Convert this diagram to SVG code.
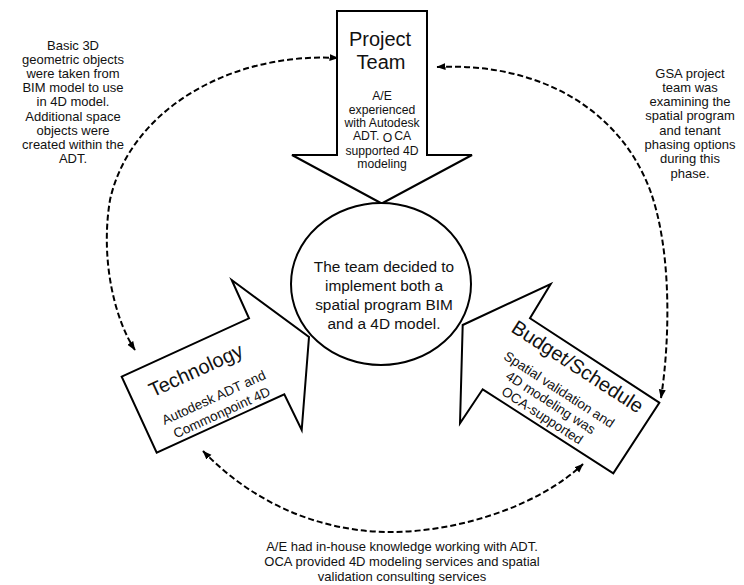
<svg xmlns="http://www.w3.org/2000/svg" width="744" height="585" viewBox="0 0 744 585">
<defs>
<marker id="ah" markerUnits="userSpaceOnUse" markerWidth="10" markerHeight="8" refX="8.5" refY="3.5" orient="auto-start-reverse" viewBox="0 0 10 8">
<path d="M0,0 L9,3.5 L0,7 z" fill="#000"/>
</marker>
<style>
.shape{fill:#fff;stroke:#000;stroke-width:2;stroke-linejoin:miter}
.conn{fill:none;stroke:#000;stroke-width:2;stroke-dasharray:6 3;marker-start:url(#ah);marker-end:url(#ah)}
text{font-family:"Liberation Sans",Arial,sans-serif;fill:#111;text-anchor:middle}
.big{font-size:20px}
.sm{font-size:12.2px}
.note{font-size:13px}
.mid{font-size:13.5px}
.ell{font-size:15.4px}
</style>
</defs>
<rect width="744" height="585" fill="#fff"/>
<g id="connectors">
<path class="conn" d="M338,58 C230,52 130,110 110,200 C100,260 115,320 135,350"/>
<path class="conn" d="M437,67 C540,62 620,110 650,190 C672,250 670,340 661,398"/>
<path class="conn" d="M203,451 C260,510 330,532 390,532 C460,532 540,505 583,464"/>
</g>
<g id="project-team">
<polygon class="shape" points="337,11 427,11 427,155 472,155 381.7,203.5 292,155 337,155"/>
<text class="big" x="380" y="45.5">Project</text>
<text class="big" x="381" y="68.5">Team</text>
<text class="sm" x="382" y="100">A/E</text>
<text class="sm" x="382" y="113.5">experienced</text>
<text class="sm" x="382" y="127">with Autodesk</text>
<text class="sm" x="382" y="140">ADT. <tspan dy="2">O</tspan><tspan dy="-2" dx="2">CA</tspan></text>
<text class="sm" x="382" y="154.5">supported 4D</text>
<text class="sm" x="382" y="168">modeling</text>
</g>
<g id="technology">
<polygon class="shape" points="121.7,376.7 249,318.3 231.7,280 309,337 301.7,430 284.3,394.3 156.7,452.7"/>
<g transform="translate(202.8,385.6) rotate(-24.6)">
<text class="big" x="0" y="-10">Technology</text>
<text class="mid" x="5" y="20">Autodesk ADT and</text>
<text class="mid" x="6" y="37">Commonpoint 4D</text>
</g>
</g>
<g id="budget-schedule">
<polygon class="shape" points="659.3,402.7 530,318.3 550.7,284 462.7,325 460,423.3 482.7,389.3 613.3,473.3"/>
<g transform="translate(571.7,396) rotate(33)">
<text class="big" x="-11" y="-21">Budget/Schedule</text>
<text class="mid" x="-14" y="6">Spatial validation and</text>
<text class="mid" x="-14" y="21.5">4D modeling was</text>
<text class="mid" x="-14" y="37">OCA-supported</text>
</g>
</g>
<g id="decision">
<ellipse class="shape" cx="381" cy="284" rx="90" ry="81"/>
<text class="ell" x="384" y="272">The team decided to</text>
<text class="ell" x="384" y="291">implement both a</text>
<text class="ell" x="384" y="310">spatial program BIM</text>
<text class="ell" x="384" y="329">and a 4D model.</text>
</g>
<g id="note-left">
<text class="note" x="73" y="49.5">Basic 3D</text>
<text class="note" x="73" y="63.7">geometric objects</text>
<text class="note" x="73" y="77.9">were taken from</text>
<text class="note" x="73" y="92.1">BIM model to use</text>
<text class="note" x="73" y="106.3">in 4D model.</text>
<text class="note" x="73" y="120.5">Additional space</text>
<text class="note" x="73" y="134.7">objects were</text>
<text class="note" x="73" y="148.9">created within the</text>
<text class="note" x="73" y="163.1">ADT.</text>
</g>
<g id="note-right">
<text class="note" x="690" y="77.5">GSA project</text>
<text class="note" x="690" y="91.8">team was</text>
<text class="note" x="690" y="106.1">examining the</text>
<text class="note" x="690" y="120.4">spatial program</text>
<text class="note" x="690" y="134.7">and tenant</text>
<text class="note" x="690" y="149">phasing options</text>
<text class="note" x="690" y="163.3">during this</text>
<text class="note" x="690" y="177.6">phase.</text>
</g>
<g id="note-bottom">
<text class="note" x="402" y="551">A/E had in-house knowledge working with ADT.</text>
<text class="note" x="402" y="566">OCA provided 4D modeling services and spatial</text>
<text class="note" x="402" y="581">validation consulting services</text>
</g>
</svg>
